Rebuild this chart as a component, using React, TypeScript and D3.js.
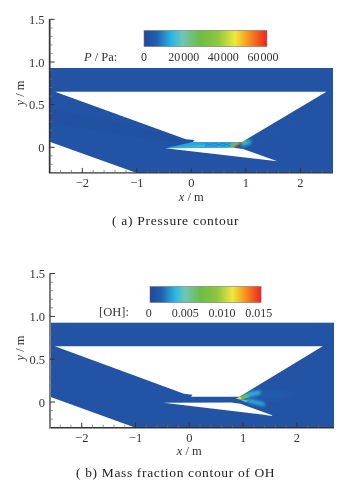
import React from "react";
import * as d3 from "d3";

type Pt = [number, number];
const font = "'Liberation Serif', serif";
const ink = "#333333";

const xMajor = [-2, -1, 0, 1, 2];
const xMinor = [-2.4, -2.2, -1.8, -1.6, -1.4, -1.2, -0.8, -0.6, -0.4, -0.2, 0.2, 0.4, 0.6, 0.8, 1.2, 1.4, 1.6, 1.8, 2.2, 2.4];
const yMajor = [0, 0.5, 1, 1.5];
const yMinor = [-0.2, -0.1, 0.1, 0.2, 0.3, 0.4, 0.6, 0.7, 0.8, 0.9, 1.1, 1.2, 1.3, 1.4];

const colorStops: [number, string][] = [
  [0, "#22479b"], [0.1, "#2260ad"], [0.22, "#29b5e6"], [0.31, "#70c6b6"],
  [0.45, "#6cbd45"], [0.6, "#8cc63f"], [0.74, "#efe83f"], [0.85, "#f7941d"], [1, "#ed2224"],
];
const colorAt = d3.scaleLinear<string>().domain(colorStops.map(d => d[0])).range(colorStops.map(d => d[1])).clamp(true);

const upperVoid: Pt[] = [[-2.5, 0.65], [2.48, 0.65], [0.93, 0.062], [0.03, 0.062], [0.06, 0.085], [-0.1, 0.095]];
const lowerVoid: Pt[] = [[-0.48, -0.01], [0.78, -0.005], [0.95, -0.02], [1.58, -0.165]];
const cornerVoid: Pt[] = [[-2.6, 0.065], [-1.0, -0.3], [-2.6, -0.3]];

const pressureTicks = [0, 20000, 40000, 60000];
const pressureLabels = ["0", "20\u200a000", "40\u200a000", "60\u200a000"];
const ohTicks = [0, 0.005, 0.01, 0.015];
const ohLabels = ["0", "0.005", "0.010", "0.015"];

type Patch = { pts: Pt[]; v: number; blur?: number; o?: number };
// v: fraction of the colour range
const pressurePatches: Patch[] = [
  { pts: [[-2.6, 0.45], [-0.2, 0.1], [-0.2, 0.05], [-2.6, 0.3]], v: 0.0, o: 0.18, blur: 1 },
  { pts: [[0.9, 0.1], [2.0, 0.55], [2.0, 0.3], [1.1, 0.03]], v: 0.07, o: 0.25, blur: 2 },
  { pts: [[-0.48, -0.01], [0.78, -0.005], [0.93, 0.062], [0.03, 0.062]], v: 0.2, blur: 0.3 },
  { pts: [[-0.4, -0.005], [0.25, -0.003], [0.25, 0.03]], v: 0.24, blur: 0.6 },
  { pts: [[0.65, 0.0], [0.78, 0.0], [0.93, 0.062], [0.8, 0.062]], v: 0.42, blur: 1 },
  { pts: [[0.93, 0.062], [1.08, 0.1], [1.1, 0.04], [0.92, 0.0]], v: 0.22, blur: 1.5, o: 0.9 },
  { pts: [[0.9, 0.05], [1.0, 0.1], [1.0, 0.04]], v: 0.42, blur: 1 },
];
const pressureDiamonds: Pt[][] = [
  [[0.25, 0.05], [0.42, 0.015], [0.58, 0.05], [0.72, 0.015]],
  [[0.25, 0.015], [0.42, 0.05], [0.58, 0.015], [0.72, 0.05]],
];
const pressureFront: Pt[] = [[0.78, 0.002], [0.86, 0.035], [0.93, 0.075]];
const ohPatches: Patch[] = [
  { pts: [[0.95, 0.1], [1.6, 0.15], [2.0, 0.08], [1.6, 0.03], [1.0, 0.04]], v: 0.11, blur: 2.5, o: 0.45 },
  { pts: [[0.9, 0.05], [1.1, 0.115], [1.32, 0.135], [1.32, 0.09], [1.05, 0.05]], v: 0.23, blur: 1.4 },
  { pts: [[0.95, 0.03], [1.15, 0.03], [1.4, -0.01], [1.4, -0.05], [1.15, -0.015]], v: 0.23, blur: 1.4 },
  { pts: [[0.88, 0.04], [1.05, 0.09], [1.12, 0.06], [1.0, 0.035]], v: 0.46, blur: 0.7 },
  { pts: [[0.88, 0.04], [1.0, 0.03], [1.1, 0.015], [1.05, 0.0]], v: 0.3, blur: 0.7 },
  { pts: [[0.86, 0.035], [0.95, 0.065], [0.97, 0.035]], v: 0.76, blur: 0.5 },
];

function Panel(props: {
  id: string; xr: [number, number]; xd: [number, number]; y0: number; yUnit: number;
  bar: [number, number, number, number]; tr: [number, number]; tickVals: number[]; tickLabels: string[];
  dom: [number, number]; title: React.ReactNode; titleX: number; titleY: number;
  patches: Patch[]; lines?: Pt[][]; front?: Pt[]; caption: string; capX: number; capY: number; capLS: number;
  xTitleY: number; yTitleY: number; leftAxis: string; leftW: number;
}) {
  const { id, xr, xd, y0, yUnit, bar } = props;
  const x = d3.scaleLinear().domain(xd).range(xr);
  const y = d3.scaleLinear().domain([0, 1]).range([y0, y0 - yUnit]);
  const cb = d3.scaleLinear().domain(props.dom).range(props.tr);
  const poly = (p: Pt[]) => p.map(d => `${x(d[0])},${y(d[1])}`).join(" ");
  const line = d3.line<Pt>().x(d => x(d[0])).y(d => y(d[1]));
  const [bx, by, bw, bh] = bar;
  const yBot = y(-0.3);
  const left = x(xd[0]);
  const right = x(xd[1]);
  const steps = d3.range(0, bw);
  return (
    <g>
      <defs>
        <clipPath id={id + "clip"}>
          <rect x={left} y={y(0.93)} width={right - left} height={yBot - y(0.93)} />
        </clipPath>
        {[0.3, 0.5, 0.6, 0.7, 1, 1.4, 1.5, 2, 2.5].map(b => (
          <filter key={b} id={`${id}b${String(b).replace(".", "_")}`} x="-50%" y="-100%" width="200%" height="300%">
            <feGaussianBlur stdDeviation={b} />
          </filter>
        ))}
      </defs>
      <g clipPath={`url(#${id}clip)`}>
        <rect x={left} y={y(0.93)} width={right - left} height={yBot - y(0.93)} fill="#2353a4" />
        {props.patches.map((p, i) => (
          <polygon key={i} points={poly(p.pts)} fill={colorAt(p.v)} opacity={p.o ?? 1}
            filter={p.blur ? `url(#${id}b${String(p.blur).replace(".", "_")})` : undefined} />
        ))}
        {(props.lines ?? []).map((l, i) => (
          <path key={i} d={line(l) ?? ""} fill="none" stroke="#2a7cc0" strokeWidth={1} opacity={0.8} />
        ))}
        {props.front && <path d={line(props.front) ?? ""} fill="none" stroke="#e8502a" strokeWidth={1.4} />}
        <polygon points={poly(upperVoid)} fill="#fff" />
        <polygon points={poly(lowerVoid)} fill="#fff" />
        <polygon points={poly(cornerVoid)} fill="#fff" />
      </g>
      {steps.map(i => (
        <rect key={i} x={bx + i} y={by} width={1.2} height={bh} fill={colorAt(i / bw)} />
      ))}
      <rect x={bx} y={by} width={bw} height={bh} fill="none" stroke="#777" strokeWidth={0.6} />
      {props.tickVals.map((t, i) => (
        <text key={t} x={cb(t)} y={by + bh + 14.5} textAnchor="middle" fontSize={12} fill={ink} fontFamily={font}>{props.tickLabels[i]}</text>
      ))}
      <text x={props.titleX} y={props.titleY} fontSize={12.5} fill={ink} fontFamily={font}>{props.title}</text>
      <path d={`M${left},${y(1.5)}H${left}V${yBot}H${right}`} fill="none" stroke={ink} strokeWidth={1.4} />
      <line x1={left} x2={left} y1={y(1.5)} y2={yBot} stroke={props.leftAxis} strokeWidth={props.leftW} />
      {yMajor.map(t => (
        <g key={t}>
          <line x1={left} x2={left + 5} y1={y(t)} y2={y(t)} stroke={ink} strokeWidth={1} />
          <text x={left - 5} y={y(t) + 4.5} textAnchor="end" fontSize={12.5} fill={ink} fontFamily={font}>{t === 0 ? "0" : t.toFixed(1)}</text>
        </g>
      ))}
      {yMinor.map(t => (
        <line key={t} x1={left} x2={left + 3} y1={y(t)} y2={y(t)} stroke="#666" strokeWidth={0.7} />
      ))}
      {xMajor.map(t => (
        <g key={t}>
          <line x1={x(t)} x2={x(t)} y1={yBot} y2={yBot - 5} stroke={ink} strokeWidth={1} />
          <text x={x(t)} y={yBot + 14} textAnchor="middle" fontSize={12.5} fill={ink} fontFamily={font}>{t < 0 ? "\u2212" + -t : t}</text>
        </g>
      ))}
      {xMinor.map(t => (
        <line key={t} x1={x(t)} x2={x(t)} y1={yBot} y2={yBot - 3} stroke="#666" strokeWidth={0.7} />
      ))}
      <text x={x(0)} y={props.xTitleY} textAnchor="middle" fontSize={12.5} fill={ink} fontFamily={font}>
        <tspan fontStyle="italic">x</tspan> / m
      </text>
      <text transform={`translate(24,${props.yTitleY}) rotate(-90)`} textAnchor="middle" fontSize={12.5} fill={ink} fontFamily={font}>
        <tspan fontStyle="italic">y</tspan> / m
      </text>
      <text x={props.capX} y={props.capY} fontSize={13.5} letterSpacing={props.capLS} fill="#222" fontFamily={font}>{props.caption}</text>
    </g>
  );
}

export default function App() {
  return (
    <svg width={362} height={491} viewBox="0 0 362 491"
      style={{ position: "absolute", left: 0, top: 0, background: "#fff", filter: "blur(0.3px)" }}>
      <Panel id="a" xr={[49.6, 333]} xd={[-2.6, 2.6]} y0={147.3} yUnit={85.3}
        bar={[144, 30.5, 122.3, 16]} tr={[144, 263]} tickVals={pressureTicks} tickLabels={pressureLabels}
        dom={[0, 60000]} title={<><tspan fontStyle="italic">P</tspan> / Pa:</>} titleX={84} titleY={61}
        patches={pressurePatches} lines={pressureDiamonds} front={pressureFront}
        caption="( a)  Pressure contour" capX={112} capY={225} capLS={0.72} xTitleY={201} yTitleY={93}
        leftAxis={ink} leftW={1.4} />
      <Panel id="b" xr={[50, 334]} xd={[-2.59, 2.69]} y0={402} yUnit={85.6}
        bar={[150, 286.5, 111, 16]} tr={[148.7, 258.7]} tickVals={ohTicks} tickLabels={ohLabels}
        dom={[0, 0.015]} title="[OH]:" titleX={99} titleY={315.5}
        patches={ohPatches}
        caption="( b)  Mass fraction contour of OH" capX={76} capY={477} capLS={0.65} xTitleY={454.5} yTitleY={348}
        leftAxis="#808080" leftW={2} />
    </svg>
  );
}
